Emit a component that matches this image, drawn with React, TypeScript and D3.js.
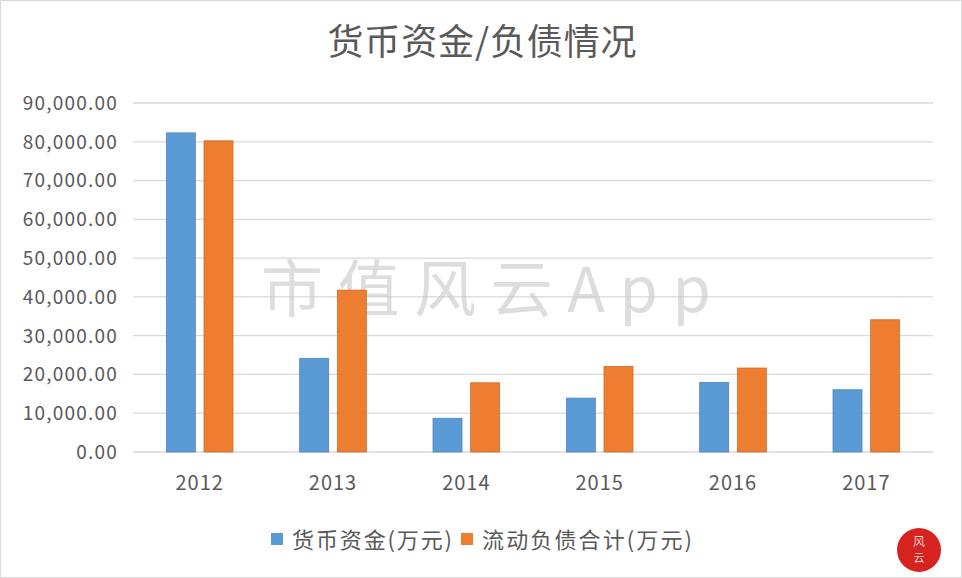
import React from 'react';
import * as d3 from 'd3';

const years = ['2012', '2013', '2014', '2015', '2016', '2017'];
const cashValues = [82300, 24150, 8700, 13900, 17950, 16050];
const liabilityValues = [80250, 41750, 17850, 22050, 21650, 34100];
const seriesNames = ['货币资金(万元)', '流动负债合计(万元)'];
const seriesColors = ['#5b9bd5', '#ed7d31'];
const yTicks = [0, 10000, 20000, 30000, 40000, 50000, 60000, 70000, 80000, 90000];

const W = 962;
const H = 578;
const font = '"Noto Sans CJK SC", "Noto Sans", sans-serif';

const App = () => {
  const x0 = d3.scaleBand().domain(years).range([133, 933]).paddingInner(0).paddingOuter(0);
  const bw = x0.bandwidth();
  const x1 = d3.scaleBand().domain(['0', '1']).range([bw * 0.25, bw * 0.75]).paddingInner(0.23);
  const y = d3.scaleLinear().domain([0, 90000]).range([452, 103]);
  const fmt = d3.format(',.2f');
  const series = [cashValues, liabilityValues];

  return (
    <svg width={W} height={H} style={{ position: 'absolute', left: 0, top: 0, background: '#fff' }}>
      <rect x={0.5} y={0.5} width={W - 1} height={H - 1} fill="#fff" stroke="#d9d9d9" />
      <text x={482} y={55} textAnchor="middle" fontFamily={font} fontSize={36} fill="#595959"
        textLength={309} lengthAdjust="spacing">
        货币资金/负债情况
      </text>

      {yTicks.map(t => (
        <g key={t}>
          <line x1={133} x2={933} y1={y(t)} y2={y(t)} stroke="#d9d9d9" strokeWidth={1.3} />
          <text x={118} y={y(t)} dy="0.36em" textAnchor="end" fontFamily={font} fontSize={19}
            letterSpacing={1.2} fill="#595959">
            {fmt(t)}
          </text>
        </g>
      ))}

      <text x={486} y={312} textAnchor="middle" fontFamily={font} fontSize={62} fill="#c8c8c8" opacity={0.6}
        textLength={450} lengthAdjust="spacing">
        市值风云App
      </text>

      {series.map((vals, si) => (
        <g key={si}>
          {vals.map((v, i) => (
            <rect key={i}
              x={(x0(years[i]) as number) + (x1(String(si)) as number)}
              y={y(v)}
              width={x1.bandwidth()}
              height={y(0) - y(v)}
              fill={seriesColors[si]}
              stroke={d3.color(seriesColors[si])!.darker(0.4).toString()}
              strokeWidth={0.8}
            />
          ))}
        </g>
      ))}

      {years.map(yr => (
        <text key={yr} x={(x0(yr) as number) + bw / 2} y={490} textAnchor="middle" fontFamily={font} fontSize={20}
          letterSpacing={1} fill="#595959">
          {yr}
        </text>
      ))}

      <g>
        <rect x={271} y={533} width={12} height={12} fill={seriesColors[0]} />
        <text x={292} y={548} fontFamily={font} fontSize={22} fill="#595959" textLength={160} lengthAdjust="spacing">
          {seriesNames[0]}
        </text>
        <rect x={461} y={533} width={12} height={12} fill={seriesColors[1]} />
        <text x={482} y={548} fontFamily={font} fontSize={22} fill="#595959" textLength={210} lengthAdjust="spacing">
          {seriesNames[1]}
        </text>
      </g>

      <circle cx={919} cy={550} r={22} fill="#d7231f" />
      <text x={919} y={546} textAnchor="middle" fontFamily={font} fontSize={12} fill="#f5d0c8">风</text>
      <text x={919} y={562} textAnchor="middle" fontFamily={font} fontSize={11} fill="#f5d0c8">云</text>
    </svg>
  );
};

export default App;
